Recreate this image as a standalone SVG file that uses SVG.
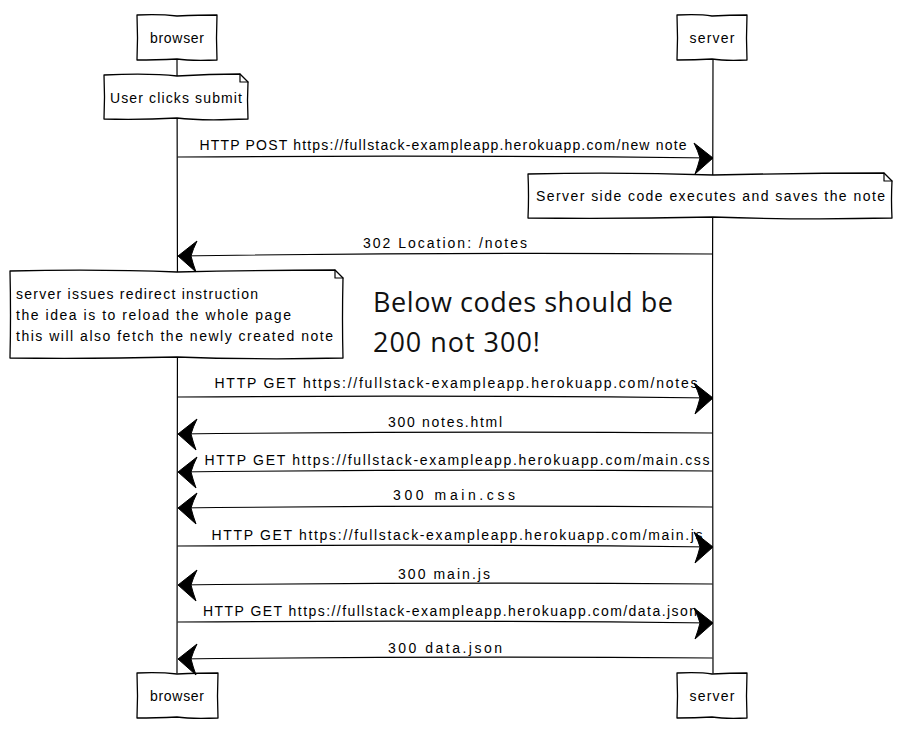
<svg xmlns="http://www.w3.org/2000/svg" width="903" height="744" viewBox="0 0 903 744">
<style>
.s{fill:none;stroke:#000;stroke-width:1.2;stroke-linecap:round;stroke-linejoin:round}
.box{fill:#fff;stroke:#000;stroke-width:1.3;stroke-linejoin:round}
.t{font-family:"Liberation Sans","DejaVu Sans",sans-serif;font-size:14px;fill:#000}
.c{text-anchor:middle}
.big{font-family:"Open Sans","Noto Sans",sans-serif;font-size:27px;fill:#111}
.ah{fill:#000;stroke:#000;stroke-width:1;stroke-linejoin:round}
</style>
<rect width="903" height="744" fill="#fff"/>
<defs>
<path id="ahR" d="M0,0 L-19,-15 Q-15,-7 -13,0 Q-15,8 -18,16 Z"/>
<path id="ahL" d="M0,0 L19,-15 Q15,-7 13,0 Q15,8 18,16 Z"/>
</defs>

<g id="lifelines">
<path class="s" d="M177,60 L177.5,300 Q176.5,500 177,673"/>
<path class="s" d="M713,60 L712.5,300 Q713.5,500 713,673"/>
</g>

<g id="browser-top">
<path class="box" d="M137,15 Q160,14 177,16 Q200,15 217,15 Q216,38 217,60 Q190,61 177,59 Q155,60 137,60 Q138,38 137,15 Z"/>
<text class="t c" x="177" y="43" textLength="54">browser</text>
</g>
<g id="server-top">
<path class="box" d="M677,15 Q700,14 712,16 Q730,15 747,15 Q746,38 747,60 Q725,61 712,59 Q695,60 677,60 Q678,38 677,15 Z"/>
<text class="t c" x="712" y="43" textLength="45">server</text>
</g>
<g id="browser-bottom">
<path class="box" d="M137,673 Q160,672 177,674 Q200,673 218,673 Q217,696 218,718 Q190,719 177,717 Q155,718 137,718 Q138,696 137,673 Z"/>
<text class="t c" x="177" y="701" textLength="54">browser</text>
</g>
<g id="server-bottom">
<path class="box" d="M677,673 Q700,672 712,674 Q730,673 747,673 Q746,696 747,718 Q725,719 712,717 Q695,718 677,718 Q678,696 677,673 Z"/>
<text class="t c" x="712" y="701" textLength="45">server</text>
</g>

<g id="note-user">
<path class="box" d="M104,75 Q150,73 177,76 Q210,74 240,74 L248,82 Q247,100 248,119 Q200,121 177,118 Q140,120 104,119 Q105,97 104,75 Z"/>
<path class="s" d="M240,74 L240,82 L248,82"/>
<text class="t" x="110" y="103" textLength="132">User clicks submit</text>
</g>

<g id="note-server">
<path class="box" d="M528,174 Q620,172 713,175 Q800,173 884,173 L892,181 Q891,200 892,218 Q800,220 713,217 Q620,219 528,218 Q529,196 528,174 Z"/>
<path class="s" d="M884,173 L884,181 L892,181"/>
<text class="t" x="536" y="201" textLength="349">Server side code executes and saves the note</text>
</g>

<g id="note-redirect">
<path class="box" d="M10,271 Q100,269 177,272 Q260,270 335,270 L343,278 Q342,320 343,358 Q260,360 177,357 Q90,359 10,358 Q11,315 10,271 Z"/>
<path class="s" d="M335,270 L335,278 L343,278"/>
<text class="t" x="16" y="299" textLength="242">server issues redirect instruction</text>
<text class="t" x="16" y="320" textLength="275">the idea is to reload the whole page</text>
<text class="t" x="16" y="341" textLength="317">this will also fetch the newly created note</text>
</g>

<g id="remark">
<text class="big" x="373" y="312" textLength="300">Below codes should be</text>
<text class="big" x="373" y="352" textLength="167">200 not 300!</text>
</g>

<g id="connectors">
<path class="s" d="M178,157 Q450,155 712,158"/>
<use class="ah" href="#ahR" x="713" y="158"/>
<text class="t c" x="443" y="150" textLength="487">HTTP POST https://fullstack-exampleapp.herokuapp.com/new note</text>

<path class="s" d="M712,254 Q450,252 179,256"/>
<use class="ah" href="#ahL" x="178" y="256"/>
<text class="t c" x="445" y="248" textLength="164">302 Location: /notes</text>

<path class="s" d="M178,397 Q450,395 712,398"/>
<use class="ah" href="#ahR" x="713" y="398"/>
<text class="t c" x="456" y="388" textLength="483">HTTP GET https://fullstack-exampleapp.herokuapp.com/notes</text>

<path class="s" d="M712,433 Q450,431 179,434"/>
<use class="ah" href="#ahL" x="178" y="434"/>
<text class="t c" x="445" y="427" textLength="114">300 notes.html</text>

<path class="s" d="M712,471 Q450,469 179,472"/>
<use class="ah" href="#ahL" x="178" y="472"/>
<text class="t c" x="457" y="465" textLength="505">HTTP GET https://fullstack-exampleapp.herokuapp.com/main.css</text>

<path class="s" d="M712,507 Q450,505 179,508"/>
<use class="ah" href="#ahL" x="178" y="508"/>
<text class="t c" x="454" y="500" textLength="122">300 main.css</text>

<path class="s" d="M178,546 Q450,544 712,547"/>
<use class="ah" href="#ahR" x="713" y="547"/>
<text class="t c" x="457" y="540" textLength="491">HTTP GET https://fullstack-exampleapp.herokuapp.com/main.js</text>

<path class="s" d="M712,584 Q450,582 179,585"/>
<use class="ah" href="#ahL" x="178" y="585"/>
<text class="t c" x="444" y="579" textLength="92">300 main.js</text>

<path class="s" d="M178,622 Q450,620 712,623"/>
<use class="ah" href="#ahR" x="713" y="623"/>
<text class="t c" x="450" y="616" textLength="494">HTTP GET https://fullstack-exampleapp.herokuapp.com/data.json</text>

<path class="s" d="M712,658 Q450,656 179,659"/>
<use class="ah" href="#ahL" x="178" y="659"/>
<text class="t c" x="445" y="653" textLength="114">300 data.json</text>
</g>
</svg>
